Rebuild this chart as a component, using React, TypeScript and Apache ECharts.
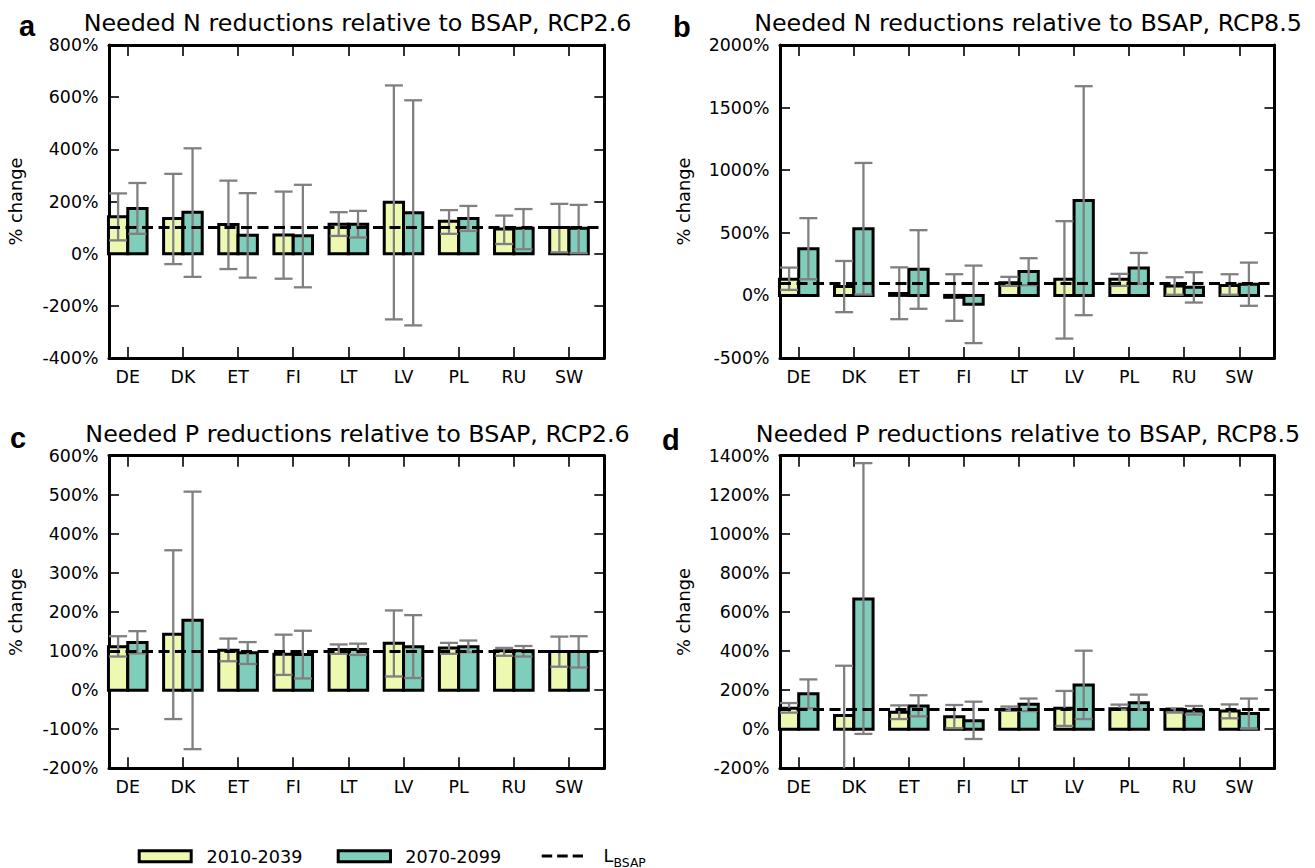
import React, { useEffect, useRef } from 'react';
import * as echarts from 'echarts';

const FONT = "'DejaVu Sans', 'Liberation Sans', sans-serif";
const YELLOW = '#edf8b1';
const TEAL = '#7fcdbb';
const ERR = '#808080';
const BAR_W = 0.35;

const countries = ['DE', 'DK', 'ET', 'FI', 'LT', 'LV', 'PL', 'RU', 'SW'];
const periods = ['2010-2039', '2070-2099'];

// Panel a: N, RCP2.6
const nRcp26Early = [142, 135, 112, 72, 113, 197, 124, 95, 100];
const nRcp26Late = [173, 159, 71, 69, 113, 157, 135, 97, 97];
const nRcp26EarlyLow = [51, -40, -59, -96, 68, -252, 76, 37, 5];
const nRcp26EarlyHigh = [231, 306, 280, 238, 159, 645, 167, 146, 191];
const nRcp26LateLow = [76, -89, -92, -129, 62, -275, 87, 17, 2];
const nRcp26LateHigh = [271, 404, 232, 264, 164, 588, 183, 171, 187];

// Panel b: N, RCP8.5
const nRcp85Early = [129, 71, 15, -15, 102, 129, 129, 76, 79];
const nRcp85Late = [373, 533, 209, -70, 190, 758, 219, 65, 89];
const nRcp85EarlyLow = [44, -134, -190, -203, 76, -345, 76, 5, 5];
const nRcp85EarlyHigh = [222, 275, 224, 169, 148, 593, 172, 145, 169];
const nRcp85LateLow = [129, 7, -107, -381, 82, -158, 92, -57, -83];
const nRcp85LateHigh = [617, 1058, 521, 238, 297, 1671, 339, 185, 262];

// Panel c: P, RCP2.6
const pRcp26Early = [111, 143, 102, 92, 104, 120, 108, 101, 99];
const pRcp26Late = [122, 179, 96, 91, 104, 111, 111, 101, 99];
const pRcp26EarlyLow = [86, -74, 74, 39, 93, 35, 93, 88, 60];
const pRcp26EarlyHigh = [138, 358, 132, 142, 117, 204, 121, 108, 137];
const pRcp26LateLow = [94, -151, 67, 30, 90, 31, 97, 86, 58];
const pRcp26LateHigh = [151, 508, 123, 152, 119, 192, 127, 113, 138];

// Panel d: P, RCP8.5
const pRcp85Early = [107, 70, 87, 64, 99, 107, 105, 99, 93];
const pRcp85Late = [182, 666, 119, 44, 128, 226, 136, 93, 81];
const pRcp85EarlyLow = [85, -230, 52, 5, 95, 17, 100, 85, 56];
const pRcp85EarlyHigh = [134, 325, 122, 124, 116, 196, 126, 107, 127];
const pRcp85LateLow = [107, -24, 66, -50, 93, 52, 100, 75, 3];
const pRcp85LateHigh = [255, 1362, 174, 141, 157, 402, 177, 119, 157];

const bsapLevel = 100;

const titles = [
  'Needed N reductions relative to BSAP, RCP2.6',
  'Needed N reductions relative to BSAP, RCP8.5',
  'Needed P reductions relative to BSAP, RCP2.6',
  'Needed P reductions relative to BSAP, RCP8.5',
];
const letters = ['a', 'b', 'c', 'd'];
const yMins = [-400, -500, -200, -200];
const yMaxs = [800, 2000, 600, 1400];
const ySteps = [200, 500, 100, 200];

const panelData = [
  [nRcp26Early, nRcp26Late, nRcp26EarlyLow, nRcp26EarlyHigh, nRcp26LateLow, nRcp26LateHigh],
  [nRcp85Early, nRcp85Late, nRcp85EarlyLow, nRcp85EarlyHigh, nRcp85LateLow, nRcp85LateHigh],
  [pRcp26Early, pRcp26Late, pRcp26EarlyLow, pRcp26EarlyHigh, pRcp26LateLow, pRcp26LateHigh],
  [pRcp85Early, pRcp85Late, pRcp85EarlyLow, pRcp85EarlyHigh, pRcp85LateLow, pRcp85LateHigh],
];

// layout (pixels)
const grids = [
  { left: 109, top: 45, width: 495.3, height: 313 },
  { left: 780, top: 45, width: 494.5, height: 313 },
  { left: 109, top: 455.7, width: 495.3, height: 312.6 },
  { left: 780, top: 455.7, width: 494.5, height: 312.6 },
];
const X_MIN = -0.34;
const X_MAX = 8.64;
const titleCenters = [357.5, 1028, 357.5, 1028];
const titleTops = [10.5, 10.5, 421.5, 421.5];
const letterLefts = [19, 673, 10, 662];
const letterTops = [11.5, 12, 423.5, 425];
const nameGaps = [85, 88, 85, 88];

function barRender(offset: number, color: string) {
  return (params: any, api: any) => {
    const i = api.value(0);
    const v = api.value(1);
    const p0 = api.coord([i + offset, v]);
    const p1 = api.coord([i + offset + BAR_W, 0]);
    const x = Math.min(p0[0], p1[0]);
    const y = Math.min(p0[1], p1[1]);
    return {
      type: 'rect',
      shape: { x, y, width: Math.abs(p1[0] - p0[0]), height: Math.abs(p1[1] - p0[1]) },
      style: { fill: color, stroke: '#000', lineWidth: 3 },
    };
  };
}

function errRender(offset: number) {
  return (params: any, api: any) => {
    const i = api.value(0);
    const lo = api.value(1);
    const hi = api.value(2);
    const cs = params.coordSys;
    const clampY = (y: number) => Math.max(cs.y, Math.min(cs.y + cs.height, y));
    const clampX = (x: number) => Math.max(cs.x, Math.min(cs.x + cs.width, x));
    const pt = api.coord([i + offset, hi]);
    const pb = api.coord([i + offset, lo]);
    const x = pt[0];
    const yT = clampY(pt[1]);
    const yB = clampY(pb[1]);
    const cap = 9;
    const style = { stroke: ERR, lineWidth: 2.3 };
    const children: any[] = [
      { type: 'line', shape: { x1: x, y1: yT, x2: x, y2: yB }, style },
    ];
    if (pt[1] >= cs.y) children.push({ type: 'line', shape: { x1: clampX(x - cap), y1: yT, x2: clampX(x + cap), y2: yT }, style });
    if (pb[1] <= cs.y + cs.height) children.push({ type: 'line', shape: { x1: clampX(x - cap), y1: yB, x2: clampX(x + cap), y2: yB }, style });
    return { type: 'group', children };
  };
}

export default function App() {
  const ref = useRef<HTMLDivElement>(null);

  useEffect(() => {
    if (!ref.current) return;
    const chart = echarts.init(ref.current, undefined, { renderer: 'svg' });
    const idxs = countries.map((_, i) => i);

    const xAxis: any[] = [];
    const yAxis: any[] = [];
    const series: any[] = [];
    const title: any[] = [];

    for (let k = 0; k < 4; k++) {
      const [early, late, eLow, eHigh, lLow, lHigh] = panelData[k];
      const axisLine = { show: true, onZero: false, lineStyle: { color: '#000', width: 3 } };
      const xTick = { show: true, inside: true, length: 11, customValues: idxs, lineStyle: { color: '#000', width: 1.6 } };
      const yTick = { show: true, inside: true, length: 10, lineStyle: { color: '#000', width: 1.6 } };
      xAxis.push({
        type: 'value', gridIndex: k, min: X_MIN, max: X_MAX, position: 'bottom',
        axisLine,
        axisTick: xTick,
        axisLabel: {
          show: true, customValues: idxs, margin: 10,
          formatter: (v: number) => countries[Math.round(v)],
          color: '#000', fontSize: 17.4, fontFamily: FONT,
        },
        splitLine: { show: false },
      });
      xAxis.push({
        type: 'value', gridIndex: k, min: X_MIN, max: X_MAX, position: 'top',
        axisLine,
        axisTick: xTick,
        axisLabel: { show: false },
        splitLine: { show: false },
      });
      yAxis.push({
        type: 'value', gridIndex: k, min: yMins[k], max: yMaxs[k], interval: ySteps[k], position: 'left',
        axisLine,
        axisTick: yTick,
        axisLabel: {
          formatter: (v: number) => `${v}%`,
          margin: 10.5, color: '#000', fontSize: 17.4, fontFamily: FONT,
        },
        splitLine: { show: false },
        name: '% change', nameLocation: 'middle', nameRotate: 90, nameGap: nameGaps[k],
        nameTextStyle: { color: '#000', fontSize: 17.8, fontFamily: FONT },
      });
      yAxis.push({
        type: 'value', gridIndex: k, min: yMins[k], max: yMaxs[k], interval: ySteps[k], position: 'right',
        axisLine,
        axisTick: yTick,
        axisLabel: { show: false },
        splitLine: { show: false },
      });

      series.push({
        type: 'custom', name: periods[0], xAxisIndex: 2 * k, yAxisIndex: 2 * k, z: 2,
        renderItem: barRender(-BAR_W, YELLOW),
        encode: { x: 0, y: 1 },
        data: early.map((v, i) => [i, v]),
      });
      series.push({
        type: 'custom', name: periods[1], xAxisIndex: 2 * k, yAxisIndex: 2 * k, z: 2,
        renderItem: barRender(0, TEAL),
        encode: { x: 0, y: 1 },
        data: late.map((v, i) => [i, v]),
      });
      series.push({
        type: 'custom', name: periods[0] + ' range', xAxisIndex: 2 * k, yAxisIndex: 2 * k, z: 3,
        renderItem: errRender(-BAR_W / 2),
        encode: { x: 0, y: [1, 2] },
        data: eLow.map((v, i) => [i, v, eHigh[i]]),
      });
      series.push({
        type: 'custom', name: periods[1] + ' range', xAxisIndex: 2 * k, yAxisIndex: 2 * k, z: 3,
        renderItem: errRender(BAR_W / 2),
        encode: { x: 0, y: [1, 2] },
        data: lLow.map((v, i) => [i, v, lHigh[i]]),
      });
      series.push({
        type: 'line', name: 'L_BSAP', xAxisIndex: 2 * k, yAxisIndex: 2 * k, z: 4,
        data: [],
        markLine: {
          silent: true, symbol: 'none', animation: false,
          label: { show: false },
          lineStyle: { color: '#000', type: [11, 5.5], width: 3 },
          data: [{ yAxis: bsapLevel }],
        },
      });

      title.push({
        text: titles[k], left: titleCenters[k], top: titleTops[k], textAlign: 'center', padding: 0,
        textStyle: { color: '#000', fontSize: 23.8, fontWeight: 'normal', fontFamily: FONT },
      });
      title.push({
        text: letters[k], left: letterLefts[k], top: letterTops[k], padding: 0,
        textStyle: { color: '#000', fontSize: 29, fontWeight: 'bold', fontFamily: "'Liberation Sans', Arial, sans-serif" },
      });
    }

    const legendText = { fill: '#000', fontSize: 17.6, fontFamily: FONT };
    const graphic: any[] = [
      { type: 'rect', shape: { x: 139.2, y: 850.8, width: 52, height: 11 }, style: { fill: YELLOW, stroke: '#000', lineWidth: 3 } },
      { type: 'text', x: 206.5, y: 857, style: { ...legendText, text: periods[0], textVerticalAlign: 'middle' } },
      { type: 'rect', shape: { x: 338.2, y: 850.8, width: 52.3, height: 11 }, style: { fill: TEAL, stroke: '#000', lineWidth: 3 } },
      { type: 'text', x: 405.2, y: 857, style: { ...legendText, text: periods[1], textVerticalAlign: 'middle' } },
      { type: 'line', shape: { x1: 541.7, y1: 856, x2: 583, y2: 856 }, style: { stroke: '#000', lineWidth: 3, lineDash: [10.5, 5] } },
      { type: 'text', x: 603.5, y: 855.5, style: { ...legendText, text: 'L', textVerticalAlign: 'middle' } },
      { type: 'text', x: 613.5, y: 862, style: { ...legendText, fontSize: 12.4, text: 'BSAP', textVerticalAlign: 'middle' } },
    ];

    chart.setOption({
      animation: false,
      backgroundColor: '#fff',
      title,
      grid: grids.map((g) => ({ ...g, containLabel: false })),
      xAxis,
      yAxis,
      series,
      graphic,
    });

    return () => chart.dispose();
  }, []);

  return (
    <div
      ref={ref}
      style={{ position: 'absolute', left: 0, top: 0, width: 1315, height: 868, background: '#fff' }}
    />
  );
}
